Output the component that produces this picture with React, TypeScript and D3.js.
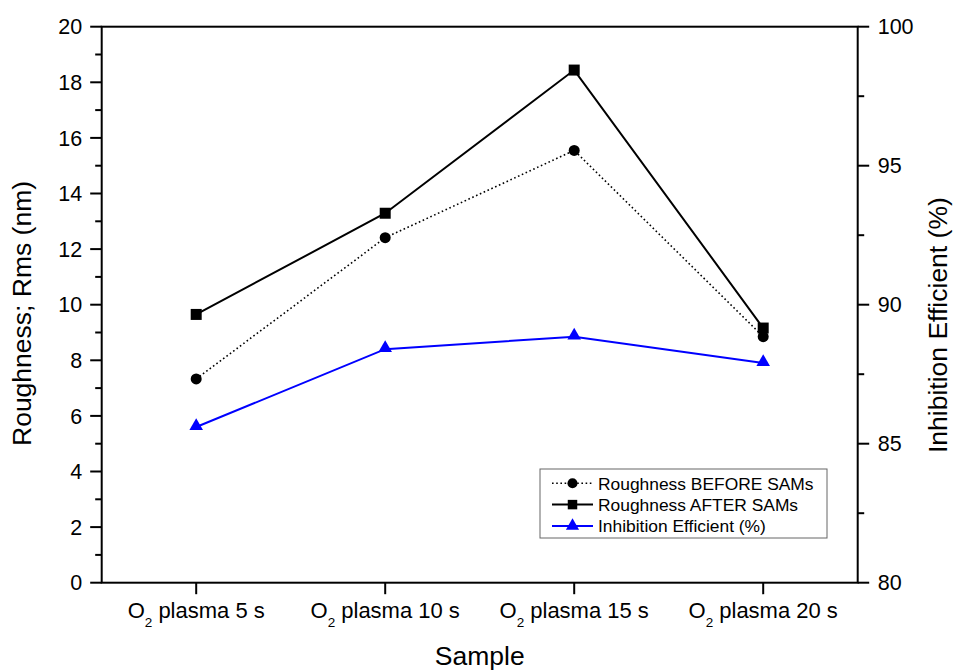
import React, { useEffect, useRef } from "react";
import * as d3 from "d3";

const samples = ["5 s", "10 s", "15 s", "20 s"];
const roughnessBefore = [7.33, 12.41, 15.55, 8.85];
const roughnessAfter = [9.65, 13.29, 18.44, 9.16];
const inhibition = [85.6, 88.4, 88.85, 87.9];
const leftTicks = [0, 2, 4, 6, 8, 10, 12, 14, 16, 18, 20];
const rightTicks = [80, 85, 90, 95, 100];
const legendLabels = ["Roughness BEFORE SAMs", "Roughness AFTER SAMs", "Inhibition Efficient (%)"];

const W = 955;
const H = 671;
const m = { t: 26.7, r: 97.3, b: 88.3, l: 101.7 };
const font = "'Liberation Sans', Arial, sans-serif";

const App = () => {
  const ref = useRef<SVGSVGElement>(null);

  useEffect(() => {
    const svg = d3.select(ref.current);
    svg.selectAll("*").remove();

    const x = d3.scalePoint<string>().domain(samples).range([m.l, W - m.r]).padding(0.5);
    const yL = d3.scaleLinear().domain([0, 20]).range([H - m.b, m.t]);
    const yR = d3.scaleLinear().domain([80, 100]).range([H - m.b, m.t]);

    // frame
    svg.append("rect")
      .attr("x", m.l).attr("y", m.t)
      .attr("width", W - m.l - m.r).attr("height", H - m.t - m.b)
      .attr("fill", "none").attr("stroke", "#000").attr("stroke-width", 2);

    // left axis
    const gL = svg.append("g").attr("transform", `translate(${m.l},0)`);
    const minorL = d3.range(1, 20, 2);
    gL.selectAll("line.minor").data(minorL).enter().append("line")
      .attr("x1", 0).attr("x2", -6.5).attr("y1", d => yL(d)).attr("y2", d => yL(d))
      .attr("stroke", "#000").attr("stroke-width", 2);
    gL.selectAll("line.major").data(leftTicks).enter().append("line")
      .attr("x1", 0).attr("x2", -11.5).attr("y1", d => yL(d)).attr("y2", d => yL(d))
      .attr("stroke", "#000").attr("stroke-width", 2);
    gL.selectAll("text").data(leftTicks).enter().append("text")
      .attr("x", -19.5).attr("y", d => yL(d)).attr("dy", "0.36em")
      .attr("text-anchor", "end").style("font-family", font).style("font-size", "21.5px")
      .text(d => d);

    // right axis
    const gR = svg.append("g").attr("transform", `translate(${W - m.r},0)`);
    const minorR = [82.5, 87.5, 92.5, 97.5];
    gR.selectAll("line.minor").data(minorR).enter().append("line")
      .attr("x1", 0).attr("x2", 6.5).attr("y1", d => yR(d)).attr("y2", d => yR(d))
      .attr("stroke", "#000").attr("stroke-width", 2);
    gR.selectAll("line.major").data(rightTicks).enter().append("line")
      .attr("x1", 0).attr("x2", 11.5).attr("y1", d => yR(d)).attr("y2", d => yR(d))
      .attr("stroke", "#000").attr("stroke-width", 2);
    gR.selectAll("text").data(rightTicks).enter().append("text")
      .attr("x", 20).attr("y", d => yR(d)).attr("dy", "0.36em")
      .attr("text-anchor", "start").style("font-family", font).style("font-size", "21.5px")
      .text(d => d);

    // bottom axis
    const gB = svg.append("g").attr("transform", `translate(0,${H - m.b})`);
    gB.selectAll("line").data(samples).enter().append("line")
      .attr("x1", d => x(d)!).attr("x2", d => x(d)!).attr("y1", 0).attr("y2", 11.5)
      .attr("stroke", "#000").attr("stroke-width", 2);
    const lbl = gB.selectAll("text").data(samples).enter().append("text")
      .attr("x", d => x(d)!).attr("y", 35.6)
      .attr("text-anchor", "middle").style("font-family", font).style("font-size", "22px");
    lbl.append("tspan").text("O");
    lbl.append("tspan").attr("dy", 9).style("font-size", "13.5px").text("2");
    lbl.append("tspan").attr("dy", -9).text(d => ` plasma ${d}`);

    // axis titles
    svg.append("text").attr("x", (m.l + W - m.r) / 2).attr("y", 665)
      .attr("text-anchor", "middle").style("font-family", font).style("font-size", "26.5px")
      .text("Sample");
    svg.append("text").attr("transform", `translate(31,446) rotate(-90)`)
      .attr("text-anchor", "start").style("font-family", font).style("font-size", "26.5px")
      .text("Roughness; Rms (nm)");
    svg.append("text").attr("transform", `translate(947,453) rotate(-90)`)
      .attr("text-anchor", "start").style("font-family", font).style("font-size", "26.5px")
      .text("Inhibition Efficient (%)");

    const line = (ys: d3.ScaleLinear<number, number>) =>
      d3.line<number>().x((_, i) => x(samples[i])!).y(d => ys(d));

    // series
    svg.append("path").attr("d", line(yL)(roughnessBefore))
      .attr("fill", "none").attr("stroke", "#000").attr("stroke-width", 1.6).attr("stroke-dasharray", "1.6,2.6");
    svg.append("path").attr("d", line(yL)(roughnessAfter))
      .attr("fill", "none").attr("stroke", "#000").attr("stroke-width", 2);
    svg.append("path").attr("d", line(yR)(inhibition))
      .attr("fill", "none").attr("stroke", "#0000ff").attr("stroke-width", 2);

    const circle = d3.symbol().type(d3.symbolCircle).size(95);
    const square = d3.symbol().type(d3.symbolSquare).size(121);
    const tri = d3.symbol().type(d3.symbolTriangle).size(80);

    svg.selectAll("path.before").data(roughnessBefore).enter().append("path")
      .attr("transform", (d, i) => `translate(${x(samples[i])},${yL(d)})`)
      .attr("d", circle()).attr("fill", "#000");
    svg.selectAll("path.after").data(roughnessAfter).enter().append("path")
      .attr("transform", (d, i) => `translate(${x(samples[i])},${yL(d)})`)
      .attr("d", square()).attr("fill", "#000");
    svg.selectAll("path.inh").data(inhibition).enter().append("path")
      .attr("transform", (d, i) => `translate(${x(samples[i])},${yR(d) - 1})`)
      .attr("d", tri()).attr("fill", "#0000ff");

    // legend
    const lg = svg.append("g").attr("transform", "translate(540,469)");
    lg.append("rect").attr("width", 287).attr("height", 69)
      .attr("fill", "#fff").attr("stroke", "#666").attr("stroke-width", 1);
    const styles = [
      { dash: "1.6,2.6", color: "#000", sym: d3.symbol().type(d3.symbolCircle).size(80) },
      { dash: null, color: "#000", sym: d3.symbol().type(d3.symbolSquare).size(90) },
      { dash: null, color: "#0000ff", sym: d3.symbol().type(d3.symbolTriangle).size(75) },
    ];
    legendLabels.forEach((t, i) => {
      const yy = 14.3 + i * 21.3;
      const s = styles[i];
      lg.append("line").attr("x1", 12).attr("x2", 53).attr("y1", yy).attr("y2", yy)
        .attr("stroke", s.color).attr("stroke-width", s.dash ? 1.6 : 2)
        .attr("stroke-dasharray", s.dash);
      lg.append("path").attr("transform", `translate(32.5,${yy})`)
        .attr("d", s.sym()).attr("fill", s.color);
      lg.append("text").attr("x", 58).attr("y", yy).attr("dy", "0.36em")
        .style("font-family", font).style("font-size", "17.4px").text(t);
    });
  }, []);

  return (
    <div style={{ position: "absolute", left: 0, top: 0 }}>
      <svg ref={ref} width={W} height={H} style={{ display: "block", background: "#fff" }} />
    </div>
  );
};

export default App;
